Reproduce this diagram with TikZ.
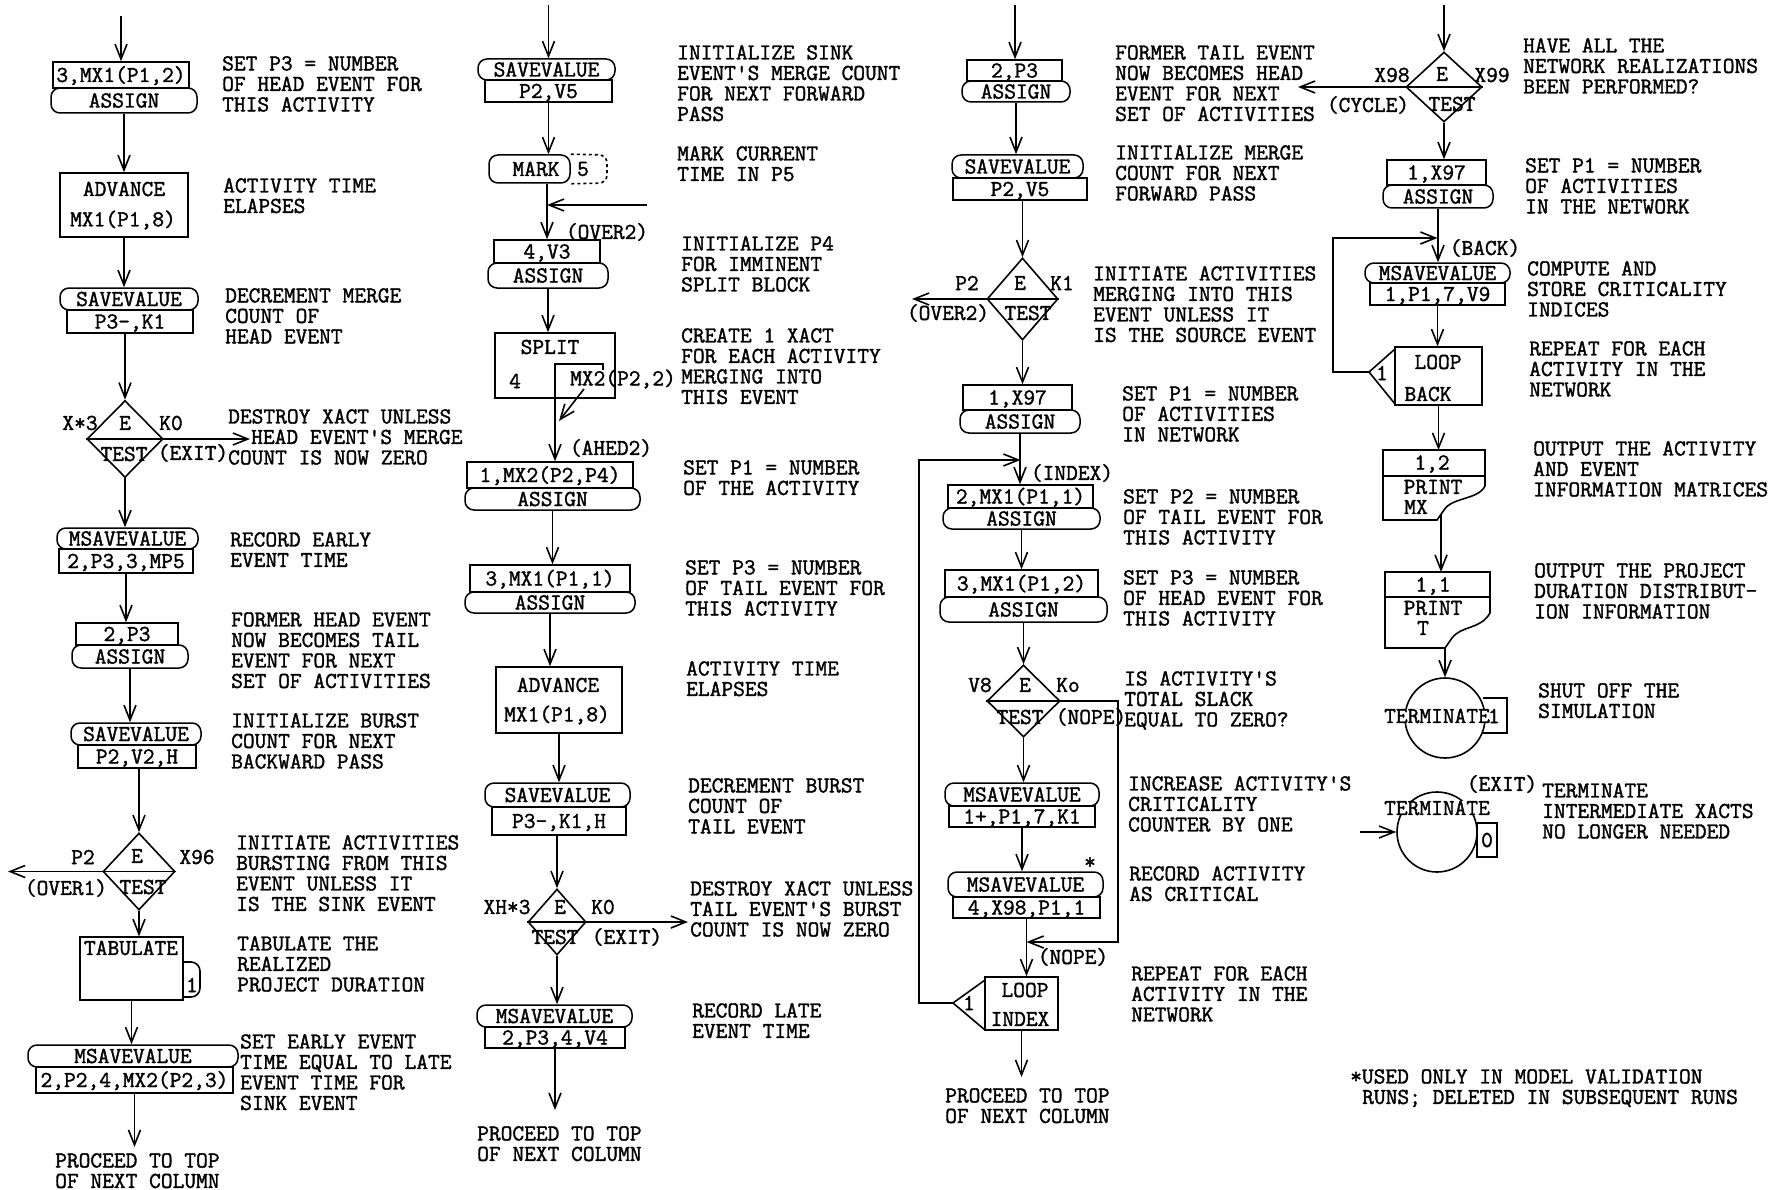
\documentclass[tikz,border=0pt]{standalone}
\usepackage{fontspec}
\setmonofont{Latin Modern Mono}[FakeBold=1.5]
\newcommand\gpssz{\ttfamily\fontsize{22.8pt}{20.5pt}\selectfont}
\usetikzlibrary{arrows.meta,shapes.geometric}
\tikzset{
  ln/.style={line width=1.6pt},
  sq/.style={draw, line width=1.5pt, inner sep=0pt, text height=14pt, text depth=0pt},
  rd/.style={sq, rounded corners=9pt},
  arr/.style={line width=1.6pt, -{Straight Barb[length=15pt,width=12pt]}},
  desc/.style={anchor=north west, align=left, inner sep=0pt},
  lbl/.style={inner sep=0pt},
  dia/.style={diamond, draw, line width=1.6pt, inner sep=0pt},
  whl/.style={inner sep=0pt, fill=white},
}
\begin{document}
\begin{tikzpicture}[x=1pt,y=-1pt,every node/.style={font=\gpssz}]
\fill[white] (0,0) rectangle (1776,1190);
\useasboundingbox (0,0) rectangle (1776,1190);

%% ---------------- Column 1 ----------------
\coordinate (s1) at (121,16);
\node[sq, minimum width=136pt, minimum height=26pt] (a1t) at (121,75) {3,MX1(P1,2)};
\node[rd, minimum width=146pt, minimum height=25pt] (a1) at (124,100.5) {ASSIGN};
\node[sq, minimum width=128pt, minimum height=64pt] (adv1) at (124,205) {};
\node[lbl] (adv1a) at (124,189) {ADVANCE};
\node[lbl] (adv1b) at (123,220) {MX1(P1,8)};
\node[rd, minimum width=138pt, minimum height=22pt] (sv1t) at (129,299) {SAVEVALUE};
\node[sq, minimum width=126pt, minimum height=23pt] (sv1) at (130,321.5) {P3-,K1};
\node[dia, minimum width=76pt, minimum height=77pt] (t1) at (125,439) {};
\draw[ln] (t1.west) -- (t1.east);
\node[lbl] (t1e) at (125,423) {E};
\node[lbl] (t1s) at (124,454) {TEST};
\node[lbl] (t1a) at (80,423) {X*3};
\node[lbl] (t1b) at (171,423) {K0};
\coordinate (x1) at (250,439);
\node[lbl] (x1l) at (193,453) {(EXIT)};
\node[rd, minimum width=141pt, minimum height=21pt] (m1t) at (127.5,538.5) {MSAVEVALUE};
\node[sq, minimum width=134pt, minimum height=24pt] (m1) at (126,561) {2,P3,3,MP5};
\node[sq, minimum width=102pt, minimum height=22pt] (a2t) at (127,634) {2,P3};
\node[rd, minimum width=116pt, minimum height=23pt] (a2) at (130,656.5) {ASSIGN};
\node[rd, minimum width=130pt, minimum height=22pt] (sv2t) at (136,734) {SAVEVALUE};
\node[sq, minimum width=118pt, minimum height=23pt] (sv2) at (137,756.5) {P2,V2,H};
\node[dia, minimum width=72pt, minimum height=77pt] (t2) at (139,871.5) {};
\draw[ln] (t2.west) -- (t2.east);
\node[lbl] (t2e) at (137,856) {E};
\node[lbl] (t2s) at (143,887) {TEST};
\node[lbl] (t2a) at (83,857) {P2};
\node[lbl] (t2b) at (197,857) {X96};
\node[lbl] (o1l) at (66,888) {(OVER1)};
\coordinate (o1) at (8,871.5);
\node[sq, minimum width=103pt, minimum height=63pt] (tab) at (131.5,968.5) {};
\node[lbl] (tabl) at (131,948) {TABULATE};
\draw[ln, rounded corners=9pt] (183,962) -- (200,962) -- (200,997) -- (183,997);
\node[lbl] (tab1) at (192,985) {1};
\node[rd, minimum width=210pt, minimum height=22pt] (m2t) at (133,1056) {MSAVEVALUE};
\node[sq, minimum width=197pt, minimum height=26pt] (m2) at (134.5,1080) {2,P2,4,MX2(P2,3)};
\coordinate (e1) at (0,1147);

\draw[arr] (s1) -- (a1t.north);
\draw[arr] (a1.south) -- (a1.south |- adv1.north);
\draw[arr] (adv1.south) -- (adv1.south |- sv1t.north);
\draw[arr] (t1.north |- sv1.south) -- (t1.north);
\draw[arr] (t1.east) -- (x1);
\draw[arr] (t1.south) -- (t1.south |- m1t.north);
\draw[arr] (m1.south) -- (m1.south |- a2t.north);
\draw[arr] (a2.south) -- (a2.south |- sv2t.north);
\draw[arr] (t2.north |- sv2.south) -- (t2.north);
\draw[arr] (t2.west) -- (o1);
\draw[arr] (t2.south) -- (t2.south |- tab.north);
\draw[arr] (tab.south) -- (tab.south |- m2t.north);
\draw[arr] (m2.south) -- (m2.south |- e1);

\node[desc] (d11) at (222,56) {SET P3 = NUMBER\\OF HEAD EVENT FOR\\THIS ACTIVITY};
\node[desc] (d12) at (223,178) {ACTIVITY TIME\\ELAPSES};
\node[desc] (d13) at (225,288) {DECREMENT MERGE\\COUNT OF\\HEAD EVENT};
\node[desc] (d14) at (228,409) {DESTROY XACT UNLESS\\\hspace*{23pt}HEAD EVENT'S MERGE\\COUNT IS NOW ZERO};
\node[desc] (d15) at (230,532) {RECORD EARLY\\EVENT TIME};
\node[desc] (d16) at (231,612) {FORMER HEAD EVENT\\NOW BECOMES TAIL\\EVENT FOR NEXT\\SET OF ACTIVITIES};
\node[desc] (d17) at (231,713) {INITIALIZE BURST\\COUNT FOR NEXT\\BACKWARD PASS};
\node[desc] (d18) at (236,835) {INITIATE ACTIVITIES\\BURSTING FROM THIS\\EVENT UNLESS IT\\IS THE SINK EVENT};
\node[desc] (d19) at (237,936) {TABULATE THE\\REALIZED\\PROJECT DURATION};
\node[desc] (d110) at (240,1034) {SET EARLY EVENT\\TIME EQUAL TO LATE\\EVENT TIME FOR\\SINK EVENT};
\node[desc] (p1) at (55,1153) {PROCEED TO TOP\\OF NEXT COLUMN};

%% ---------------- Column 2 ----------------
\coordinate (s2) at (548.5,5);
\node[rd, minimum width=137pt, minimum height=21pt] (sv3t) at (546.5,69.5) {SAVEVALUE};
\node[sq, minimum width=127pt, minimum height=22pt] (sv3) at (548.5,91) {P2,V5};
\node[rd, minimum width=81pt, minimum height=28pt] (mark) at (529.5,169) {};
\node[lbl] (markl) at (536,169) {MARK};
\draw[ln, dashed, rounded corners=8pt] (mark.north east) -- (607,155) -- (607,183) -- (mark.south east);
\node[lbl] (mark5) at (583,169) {5};
\node[sq, minimum width=106pt, minimum height=23pt] (a3t) at (547,251.5) {4,V3};
\node[rd, minimum width=120pt, minimum height=25pt] (a3) at (548,275.5) {ASSIGN};
\coordinate (ov2in) at (647,205);
\node[lbl] (ov2l) at (607,232) {(OVER2)};
\node[sq, minimum width=120pt, minimum height=65pt] (split) at (555,365.5) {};
\node[lbl] (splitl) at (550,347) {SPLIT};
\node[lbl] (split4) at (515,381) {4};
\node[lbl] (splitm) at (623,379) {MX2(P2,2)};
\draw[ln] (split.south) -- ++(0,-35) -- ++(48,0) -- ++(0,6);
\coordinate (sd1) at (584,389);
\coordinate (sd2) at (559,421);
\node[sq, minimum width=166pt, minimum height=26pt] (a4t) at (550,475) {1,MX2(P2,P4)};
\node[rd, minimum width=175pt, minimum height=22pt] (a4) at (552.5,499) {ASSIGN};
\node[lbl] (ah2) at (611,448) {(AHED2)};
\node[sq, minimum width=160pt, minimum height=27pt] (a5t) at (550,578.5) {3,MX1(P1,1)};
\node[rd, minimum width=170pt, minimum height=21pt] (a5) at (550,602.5) {ASSIGN};
\node[sq, minimum width=126pt, minimum height=66pt] (adv2) at (559,700) {};
\node[lbl] (adv2a) at (558,685) {ADVANCE};
\node[lbl] (adv2b) at (557,715) {MX1(P1,8)};
\node[rd, minimum width=145pt, minimum height=24pt] (sv4t) at (557.5,795) {SAVEVALUE};
\node[sq, minimum width=134pt, minimum height=28pt] (sv4) at (559,821) {P3-,K1,H};
\node[dia, minimum width=58pt, minimum height=66pt] (t3) at (557,922) {};
\draw[ln] (t3.west) -- (t3.east);
\node[lbl] (t3e) at (560,907) {E};
\node[lbl] (t3s) at (555,937) {TEST};
\node[lbl] (t3a) at (507,907) {XH*3};
\node[lbl] (t3b) at (603,907) {K0};
\node[lbl] (x2l) at (627,937) {(EXIT)};
\coordinate (x2) at (688,922);
\node[rd, minimum width=155pt, minimum height=22pt] (m3t) at (554.5,1016) {MSAVEVALUE};
\node[sq, minimum width=140pt, minimum height=21pt] (m3) at (555,1037.5) {2,P3,4,V4};
\coordinate (e2) at (0,1110);

\draw[arr] (s2) -- (s2 |- sv3t.north);
\draw[arr] (sv3.south) -- (sv3.south |- mark.north);
\draw[arr] (a3t.north |- mark.south) -- (a3t.north);
\draw[arr] (ov2in) -- (ov2in -| a3t.north);
\draw[arr] (a3.south) -- (a3.south |- split.north);
\draw[arr] (split.south) -- (split.south |- a4t.north);
\draw[arr] (sd1) -- (sd2);
\draw[arr] (a4.south) -- (a4.south |- a5t.north);
\draw[arr] (a5.south) -- (a5.south |- adv2.north);
\draw[arr] (adv2.south) -- (adv2.south |- sv4t.north);
\draw[arr] (t3.north |- sv4.south) -- (t3.north);
\draw[arr] (t3.east) -- (x2);
\draw[arr] (t3.south) -- (t3.south |- m3t.north);
\draw[arr] (m3.south) -- (m3.south |- e2);

\node[desc] (d21) at (677,45) {INITIALIZE SINK\\EVENT'S MERGE COUNT\\FOR NEXT FORWARD\\PASS};
\node[desc] (d22) at (677,146) {MARK CURRENT\\TIME IN P5};
\node[desc] (d23) at (681,236) {INITIALIZE P4\\FOR IMMINENT\\SPLIT BLOCK};
\node[desc] (d24) at (681,328) {CREATE 1 XACT\\FOR EACH ACTIVITY\\MERGING INTO\\THIS EVENT};
\node[desc] (d25) at (683,460) {SET P1 = NUMBER\\OF THE ACTIVITY};
\node[desc] (d26) at (685,560) {SET P3 = NUMBER\\OF TAIL EVENT FOR\\THIS ACTIVITY};
\node[desc] (d27) at (686,661) {ACTIVITY TIME\\ELAPSES};
\node[desc] (d28) at (688,778) {DECREMENT BURST\\COUNT OF\\TAIL EVENT};
\node[desc] (d29) at (690,881) {DESTROY XACT UNLESS\\TAIL EVENT'S BURST\\COUNT IS NOW ZERO};
\node[desc] (d210) at (692,1003) {RECORD LATE\\EVENT TIME};
\node[desc] (p2) at (477,1126) {PROCEED TO TOP\\OF NEXT COLUMN};

%% ---------------- Column 3 ----------------
\coordinate (s3) at (1015,5);
\node[sq, minimum width=95pt, minimum height=21pt] (a6t) at (1014.5,70.5) {2,P3};
\node[rd, minimum width=108pt, minimum height=21pt] (a6) at (1016,91.5) {ASSIGN};
\node[rd, minimum width=131pt, minimum height=23pt] (sv5t) at (1017.5,166.5) {SAVEVALUE};
\node[sq, minimum width=134pt, minimum height=22pt] (sv5) at (1020,189) {P2,V5};
\node[dia, minimum width=71pt, minimum height=82pt] (t4) at (1022.5,299) {};
\draw[ln] (t4.west) -- (t4.east);
\node[lbl] (t4e) at (1020,283) {E};
\node[lbl] (t4s) at (1028,313) {TEST};
\node[lbl] (t4a) at (967,283) {P2};
\node[lbl] (t4b) at (1062,283) {K1};
\node[lbl] (o2l) at (948,313) {(OVER2)};
\coordinate (o2) at (912,299);
\node[sq, minimum width=109pt, minimum height=25pt] (a7t) at (1017.5,397.5) {1,X97};
\node[rd, minimum width=120pt, minimum height=23pt] (a7) at (1020,421.5) {ASSIGN};
\node[lbl] (idxl) at (1072,473) {(INDEX)};
\node[sq, minimum width=145pt, minimum height=23pt] (a8t) at (1020.5,496.5) {2,MX1(P1,1)};
\node[rd, minimum width=157pt, minimum height=21pt] (a8) at (1021.5,518.5) {ASSIGN};
\node[sq, minimum width=153pt, minimum height=27pt] (a9t) at (1021.5,583.5) {3,MX1(P1,2)};
\node[rd, minimum width=167pt, minimum height=25pt] (a9) at (1023.5,609.5) {ASSIGN};
\node[dia, minimum width=73pt, minimum height=72pt] (t5) at (1023.5,701) {};
\draw[ln] (t5.west) -- (t5.east);
\node[lbl] (t5e) at (1025,685) {E};
\node[lbl] (t5s) at (1020,717) {TEST};
\node[lbl] (t5a) at (980,685) {V8};
\node[lbl] (t5b) at (1068,685) {Ko};
\node[lbl] (np1l) at (1091,717) {(NOPE)};
\coordinate (np1) at (1118,701);
\coordinate (np2) at (1118,942);
\node[rd, minimum width=154pt, minimum height=23pt] (m4t) at (1022,794.5) {MSAVEVALUE};
\node[sq, minimum width=146pt, minimum height=21pt] (m4) at (1022,816.5) {1+,P1,7,K1};
\node[lbl] (star) at (1090,863) {*};
\node[rd, minimum width=155pt, minimum height=25pt] (m5t) at (1025.5,884.5) {MSAVEVALUE};
\node[sq, minimum width=147pt, minimum height=21pt] (m5) at (1026.5,907.5) {4,X98,P1,1};
\node[lbl] (np2l) at (1073,957) {(NOPE)};
\node[sq, minimum width=73pt, minimum height=53pt] (loop1) at (1021.5,1003.5) {};
\coordinate (lp1tip) at (953,1003);
\coordinate (lp1a) at (919,1003);
\coordinate (lp1b) at (919,460);
\draw[ln] (985,980) -- (lp1tip) -- (985,1030);
\node[lbl] (loop1n) at (969,1003) {1};
\node[lbl] (loop1a) at (1025,990) {LOOP};
\node[lbl] (loop1b) at (1020,1019) {INDEX};
\coordinate (e3) at (0,1077);

\draw[arr] (s3) -- (s3 |- a6t.north);
\draw[arr] (a6.south) -- (a6.south |- sv5t.north);
\draw[arr] (t4.north |- sv5.south) -- (t4.north);
\draw[arr] (t4.west) -- (o2);
\draw[arr] (t4.south) -- (t4.south |- a7t.north);
\draw[arr] (a7.south) -- (a7.south |- a8t.north);
\draw[arr] (lp1tip) -- (lp1a) -- (lp1b) -- (lp1b -| a8t.north);
\draw[arr] (a8.south) -- (a8.south |- a9t.north);
\draw[arr] (t5.north |- a9.south) -- (t5.north);
\draw[arr] (t5.south) -- (t5.south |- m4t.north);
\draw[arr] (m4.south) -- (m4.south |- m5t.north);
\draw[arr] (t5.east) -- (np1) -- (np2) -- (np2 -| m5.south);
\draw[arr] (m5.south) -- (m5.south |- loop1.north);
\draw[arr] (loop1.south) -- (loop1.south |- e3);

\node[desc] (d31) at (1115,45) {FORMER TAIL EVENT\\NOW BECOMES HEAD\\EVENT FOR NEXT\\SET OF ACTIVITIES};
\node[desc] (d32) at (1115,145) {INITIALIZE MERGE\\COUNT FOR NEXT\\FORWARD PASS};
\node[desc] (d33) at (1093,266) {INITIATE ACTIVITIES\\MERGING INTO THIS\\EVENT UNLESS IT\\IS THE SOURCE EVENT};
\node[desc] (d34) at (1122,386) {SET P1 = NUMBER\\OF ACTIVITIES\\IN NETWORK};
\node[desc] (d35) at (1123,489) {SET P2 = NUMBER\\OF TAIL EVENT FOR\\THIS ACTIVITY};
\node[desc] (d36) at (1123,570) {SET P3 = NUMBER\\OF HEAD EVENT FOR\\THIS ACTIVITY};
\node[desc] (d37) at (1124,671) {IS ACTIVITY'S\\TOTAL SLACK\\EQUAL TO ZERO?};
\node[desc] (d38) at (1128,776) {INCREASE ACTIVITY'S\\CRITICALITY\\COUNTER BY ONE};
\node[desc] (d39) at (1129,866) {RECORD ACTIVITY\\AS CRITICAL};
\node[desc] (d310) at (1131,966) {REPEAT FOR EACH\\ACTIVITY IN THE\\NETWORK};
\node[desc] (p3) at (945,1088) {PROCEED TO TOP\\OF NEXT COLUMN};

%% ---------------- Column 4 ----------------
\coordinate (s4) at (1444,5);
\node[dia, minimum width=76pt, minimum height=70pt] (t6) at (1444,87) {};
\draw[ln] (t6.west) -- (t6.east);
\node[lbl] (t6e) at (1442,74) {E};
\node[lbl] (t6s) at (1452,104) {TEST};
\node[lbl] (t6a) at (1392,75) {X98};
\node[lbl] (t6b) at (1492,75) {X99};
\node[lbl] (cyl) at (1368,105) {(CYCLE)};
\coordinate (cy) at (1298,87);
\node[sq, minimum width=99pt, minimum height=25pt] (a10t) at (1436.5,172.5) {1,X97};
\node[rd, minimum width=110pt, minimum height=23pt] (a10) at (1438,196.5) {ASSIGN};
\node[lbl] (backl) at (1485,248) {(BACK)};
\node[rd, minimum width=145pt, minimum height=20pt] (m6t) at (1437.5,273) {MSAVEVALUE};
\node[sq, minimum width=135pt, minimum height=22pt] (m6) at (1437.5,294) {1,P1,7,V9};
\node[sq, minimum width=87pt, minimum height=58pt] (loop2) at (1438.5,376) {};
\coordinate (lp2tip) at (1369,372);
\coordinate (lp2a) at (1333,372);
\coordinate (lp2b) at (1333,238);
\draw[ln] (1395,349) -- (lp2tip) -- (1395,404);
\node[lbl] (loop2n) at (1382,373) {1};
\node[lbl] (loop2a) at (1438,362) {LOOP};
\node[lbl] (loop2b) at (1428,394) {BACK};
% PRINT 1,2
\draw[ln] (1383,450) -- (1485,450) -- (1485,486) .. controls (1478,500) and (1452,497) .. (1444,510) -- (1437,520) -- (1383,520) -- cycle;
\draw[ln] (1383,476) -- (1485,476);
\coordinate (pr1n) at (1438,450);
\coordinate (pr1s) at (1441,514);
\node[lbl] (pr1a) at (1432,464) {1,2};
\node[lbl] (pr1b) at (1433,487) {PRINT};
\node[lbl] (pr1c) at (1416,507) {MX};
% PRINT 1,1
\draw[ln] (1385,572) -- (1490,572) -- (1490,613) .. controls (1480,630) and (1462,625) .. (1452,638) -- (1445,648) -- (1385,648) -- cycle;
\draw[ln] (1385,597) -- (1490,597);
\coordinate (pr2n) at (1441,572);
\coordinate (pr2s) at (1445,648);
\node[lbl] (pr2a) at (1433,586) {1,1};
\node[lbl] (pr2b) at (1433,608) {PRINT};
\node[lbl] (pr2c) at (1423,628) {T};
% TERMINATE 1
\node[circle, draw, line width=1.6pt, minimum size=80pt, inner sep=0pt] (term1) at (1445,718) {};
\draw[ln] (1483,698) -- (1507,698) -- (1507,733) -- (1483,733);
\node[whl] (term1l) at (1437,716) {TERMINATE};
\node[lbl] (term1n) at (1494,716) {1};
% TERMINATE 0
\node[circle, draw, line width=1.6pt, minimum size=80pt, inner sep=0pt] (term2) at (1437,832) {};
\node[whl] (term2l) at (1437,808) {TERMINATE};
\node[sq, fill=white, minimum width=20pt, minimum height=34pt] (z0) at (1487,840) {0};
\node[lbl] (x3l) at (1502,784) {(EXIT)};
\coordinate (t2in) at (1360,832);

\draw[arr] (s4) -- (t6.north);
\draw[arr] (t6.west) -- (cy);
\draw[arr] (t6.south) -- (t6.south |- a10t.north);
\draw[arr] (a10.south) -- (a10.south |- m6t.north);
\draw[arr] (lp2tip) -- (lp2a) -- (lp2b) -- (lp2b -| m6t.north);
\draw[arr] (m6.south) -- (m6.south |- loop2.north);
\draw[arr] (loop2.south) -- (loop2.south |- pr1n);
\draw[arr] (pr1s) -- (pr1s |- pr2n);
\draw[arr] (term1.north |- pr2s) -- (term1.north);
\draw[arr] (t2in) -- (term2.west);

\node[desc] (d41) at (1523,38) {HAVE ALL THE\\NETWORK REALIZATIONS\\BEEN PERFORMED?};
\node[desc] (d42) at (1525,158) {SET P1 = NUMBER\\OF ACTIVITIES\\IN THE NETWORK};
\node[desc] (d43) at (1527,261) {COMPUTE AND\\STORE CRITICALITY\\INDICES};
\node[desc] (d44) at (1529,341) {REPEAT FOR EACH\\ACTIVITY IN THE\\NETWORK};
\node[desc] (d45) at (1533,441) {OUTPUT THE ACTIVITY\\AND EVENT\\INFORMATION MATRICES};
\node[desc] (d46) at (1534,563) {OUTPUT THE PROJECT\\DURATION DISTRIBUT-\\ION INFORMATION};
\node[desc] (d47) at (1538,683) {SHUT OFF THE\\SIMULATION};
\node[desc] (d48) at (1542,783) {TERMINATE\\INTERMEDIATE XACTS\\NO LONGER NEEDED};
\node[desc] (foot) at (1350,1069) {*USED ONLY IN MODEL VALIDATION\\\hspace*{12pt}RUNS; DELETED IN SUBSEQUENT RUNS};
\end{tikzpicture}
\end{document}
